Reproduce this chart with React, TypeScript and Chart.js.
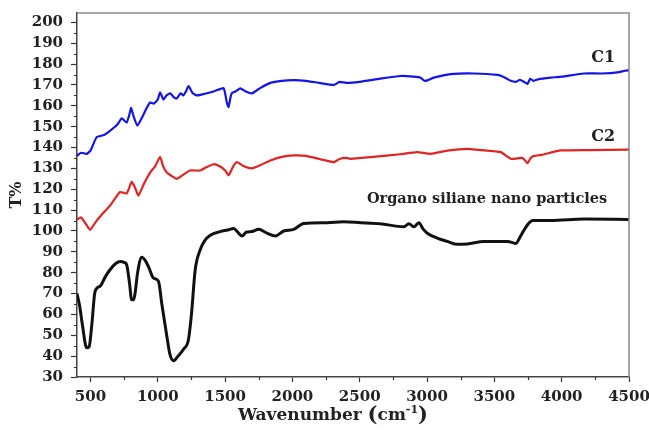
import { useEffect, useRef } from "react";
import { Chart, registerables } from "chart.js";

Chart.register(...registerables);

// ---- data (wavenumber in cm-1, transmittance T%) ----
const C1_WAVENUMBER = [400, 430, 472, 500, 546, 600, 645, 700, 732, 769, 790, 802, 820, 849, 880, 910, 943, 970, 1000, 1017, 1042, 1065, 1092, 1120, 1141, 1170, 1190, 1210, 1228, 1260, 1290, 1330, 1365, 1420, 1489, 1500, 1515, 1526, 1540, 1550, 1580, 1613, 1650, 1700, 1760, 1836, 1920, 2010, 2100, 2200, 2308, 2350, 2400, 2500, 2650, 2803, 2900, 2952, 2980, 3002, 3050, 3176, 3350, 3523, 3580, 3622, 3660, 3690, 3720, 3746, 3766, 3790, 3830, 3919, 4000, 4166, 4300, 4415, 4470, 4500];
const C1_T = [136, 137.5, 137, 138.5, 145, 146, 148, 151, 154, 152, 156, 159, 155, 150.5, 154, 158, 161.6, 161, 163, 166.5, 163, 165, 166, 164, 163.5, 166, 165, 167, 169.5, 166, 165, 165.5, 166, 167, 168.5, 166, 161, 159.5, 164, 166, 167, 168.4, 167, 166, 168.5, 171, 172, 172.3, 172, 171, 170, 171.5, 171, 171.5, 173, 174.3, 174, 173.5, 172, 172.2, 173.5, 175.2, 175.5, 174.8, 173.5, 172, 171.5, 172.5, 171.5, 170.5, 173, 172, 172.8, 173.5, 174, 175.5, 175.5, 176, 176.8, 177];

const C2_WAVENUMBER = [400, 430, 470, 497, 546, 600, 650, 720, 769, 806, 830, 856, 900, 943, 980, 1017, 1040, 1067, 1100, 1141, 1190, 1240, 1315, 1360, 1414, 1460, 1500, 1526, 1560, 1588, 1640, 1700, 1760, 1836, 1920, 2010, 2100, 2200, 2308, 2350, 2400, 2431, 2600, 2800, 2927, 3026, 3150, 3300, 3450, 3548, 3622, 3697, 3720, 3746, 3770, 3796, 3850, 3994, 4200, 4500];
const C2_T = [105.5, 106.5, 103, 100.5, 105, 109, 112.5, 118.7, 118, 123.5, 121, 117, 123, 128, 131, 135.5, 131, 128, 126.5, 125, 127, 129, 129, 130.5, 132, 131, 129, 126.7, 131, 133, 131, 130, 131.5, 133.8, 135.5, 136.2, 136, 134.5, 133, 134.5, 135, 134.6, 135.5, 136.8, 137.8, 137, 138.5, 139.4, 138.5, 137.8, 134.6, 135, 134.5, 132.5, 135, 136, 136.5, 138.6, 138.8, 139];

const OSN_WAVENUMBER = [400, 420, 440, 472, 490, 510, 534, 571, 610, 645, 690, 720, 750, 769, 790, 806, 820, 831, 850, 881, 905, 930, 968, 1005, 1030, 1067, 1090, 1117, 1150, 1191, 1228, 1250, 1278, 1315, 1350, 1390, 1464, 1520, 1563, 1600, 1625, 1660, 1699, 1749, 1811, 1873, 1935, 2010, 2084, 2258, 2382, 2506, 2650, 2828, 2865, 2902, 2939, 2970, 3002, 3080, 3151, 3225, 3300, 3424, 3598, 3659, 3690, 3721, 3760, 3783, 3920, 4167, 4500];
const OSN_T = [70, 64, 55, 44, 44.5, 55, 71, 73.5, 78, 81.4, 84.5, 85.4, 85, 83.8, 75, 67, 67, 70, 80, 87.4, 86, 83, 77.4, 75.9, 65, 49.7, 41, 37.8, 40, 43.3, 48, 60, 81.4, 91, 95.5, 98, 99.7, 100.5, 101.2, 99, 97.6, 99.5, 99.7, 100.8, 99, 97.6, 100, 100.8, 103.6, 104, 104.4, 104, 103.5, 102, 103.5, 102, 104, 101, 98.9, 96.5, 95, 93.6, 93.8, 95, 95, 94, 97, 100.5, 104, 105, 105, 105.7, 105.5];

const X_TICKS = [500, 1000, 1500, 2000, 2500, 3000, 3500, 4000, 4500];
const X_MINOR = [750, 1250, 1750, 2250, 2750, 3250, 3750, 4250];
const Y_TICKS = [30, 40, 50, 60, 70, 80, 90, 100, 110, 120, 130, 140, 150, 160, 170, 180, 190, 200];
const Y_MINOR = [35, 45, 55, 65, 75, 85, 95, 105, 115, 125, 135, 145, 155, 165, 175, 185, 195];

const SERIES_NAMES = ["C1", "C2", "Organo siliane nano particles"];
// label anchor positions in data units (wavenumber, T%)
const LABEL_X = [4308, 4308, 3446];
const LABEL_Y = [183.1, 145.3, 115.2];

const FONT = '"DejaVu Serif", serif';

const toPoints = (xs: number[], ys: number[]) => xs.map((x, i) => ({ x, y: ys[i] }));

const decorPlugin = {
  id: "decor",
  afterDraw(chart: any) {
    const { ctx, chartArea: a, scales } = chart;
    const x = scales.x;
    const y = scales.y;
    ctx.save();
    // top/right frame
    ctx.strokeStyle = "#8a8a8a";
    ctx.lineWidth = 1.5;
    ctx.beginPath();
    ctx.moveTo(a.left, a.top);
    ctx.lineTo(a.right, a.top);
    ctx.lineTo(a.right, a.bottom);
    ctx.stroke();
    // minor ticks
    ctx.strokeStyle = "#333";
    ctx.lineWidth = 1.2;
    ctx.beginPath();
    Y_MINOR.forEach((v) => {
      const py = Math.round(y.getPixelForValue(v)) + 0.5;
      ctx.moveTo(a.left - 3, py);
      ctx.lineTo(a.left, py);
    });
    X_MINOR.forEach((v) => {
      const px = Math.round(x.getPixelForValue(v)) + 0.5;
      ctx.moveTo(px, a.bottom);
      ctx.lineTo(px, a.bottom + 3);
    });
    ctx.stroke();
    // series labels
    ctx.fillStyle = "#222";
    ctx.textAlign = "center";
    ctx.textBaseline = "middle";
    SERIES_NAMES.forEach((name, i) => {
      ctx.font = i < 2 ? `bold 16px ${FONT}` : `bold 14.5px ${FONT}`;
      ctx.fillText(name, x.getPixelForValue(LABEL_X[i]), y.getPixelForValue(LABEL_Y[i]));
    });
    // x axis title with superscript
    const parts = [
      { t: "Wavenumber ", f: `bold 17px ${FONT}`, dy: 0 },
      { t: "(", f: `bold 21px ${FONT}`, dy: 1 },
      { t: "cm", f: `bold 17px ${FONT}`, dy: 0 },
      { t: "-1", f: `bold 11px ${FONT}`, dy: -7 },
      { t: ")", f: `bold 21px ${FONT}`, dy: 1 },
    ];
    let total = 0;
    parts.forEach((p) => {
      ctx.font = p.f;
      total += ctx.measureText(p.t).width;
    });
    let cx = 333 - total / 2;
    const baseY = 420;
    ctx.textAlign = "left";
    ctx.textBaseline = "alphabetic";
    parts.forEach((p) => {
      ctx.font = p.f;
      ctx.fillText(p.t, cx, baseY + p.dy);
      cx += ctx.measureText(p.t).width;
    });
    ctx.restore();
  },
};

export default function App() {
  const ref = useRef<HTMLCanvasElement>(null);
  useEffect(() => {
    if (!ref.current) return;
    const chart = new Chart(ref.current, {
      type: "line",
      data: {
        datasets: [
          { label: SERIES_NAMES[0], data: toPoints(C1_WAVENUMBER, C1_T), borderColor: "#1414e6", borderWidth: 2.2, pointRadius: 0, tension: 0.15 },
          { label: SERIES_NAMES[1], data: toPoints(C2_WAVENUMBER, C2_T), borderColor: "#e02424", borderWidth: 2.2, pointRadius: 0, tension: 0.15 },
          { label: SERIES_NAMES[2], data: toPoints(OSN_WAVENUMBER, OSN_T), borderColor: "#111111", borderWidth: 3, pointRadius: 0, tension: 0.3, cubicInterpolationMode: "monotone" },
        ],
      },
      options: {
        animation: false,
        responsive: false,
        events: [],
        layout: { padding: { top: 13, right: 20, left: 0, bottom: 0 } },
        plugins: { legend: { display: false }, tooltip: { enabled: false } },
        scales: {
          x: {
            type: "linear",
            min: 400,
            max: 4500,
            afterFit: (s: any) => { s.height = 53; s.paddingLeft = 0; s.paddingRight = 0; },
            afterBuildTicks: (s: any) => { s.ticks = X_TICKS.map((v) => ({ value: v })); },
            border: { display: true, color: "#444", width: 1.5 },
            grid: { display: true, drawOnChartArea: false, drawTicks: true, tickLength: 5, tickColor: "#333", tickWidth: 1.2 },
            ticks: { color: "#222", font: { family: FONT, size: 15, weight: "bold" }, padding: 6, maxRotation: 0, autoSkip: false, callback: (v: any) => String(v) },
          },
          y: {
            type: "linear",
            min: 30,
            max: 204.5,
            afterFit: (s: any) => { s.width = 77; s.paddingTop = 0; s.paddingBottom = 0; },
            afterBuildTicks: (s: any) => { s.ticks = Y_TICKS.map((v) => ({ value: v })); },
            border: { display: true, color: "#444", width: 1.5 },
            grid: { display: true, drawOnChartArea: false, drawTicks: true, tickLength: 6, tickColor: "#333", tickWidth: 1.2 },
            ticks: { color: "#222", font: { family: FONT, size: 15, weight: "bold" }, padding: 8, autoSkip: false, callback: (v: any) => String(v) },
            title: { display: true, text: "T%", color: "#222", font: { family: FONT, size: 16, weight: "bold" }, padding: { top: 7, bottom: 7 } },
          },
        },
      },
      plugins: [decorPlugin],
    } as any);
    return () => chart.destroy();
  }, []);
  return (
    <div style={{ position: "fixed", left: 0, top: 0, width: 649, height: 430, background: "#fff" }}>
      <canvas ref={ref} width={649} height={430} style={{ width: 649, height: 430, display: "block" }} />
    </div>
  );
}
